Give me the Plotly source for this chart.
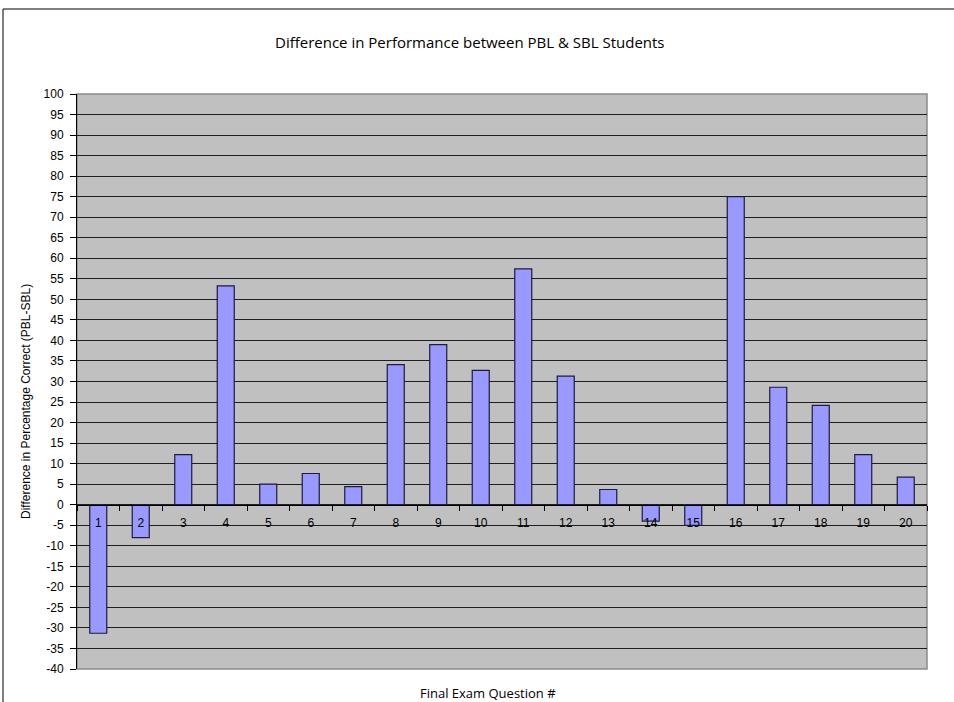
import plotly.graph_objects as go

# Final exam questions and the PBL minus SBL difference in percentage correct
questions = [str(i) for i in range(1, 21)]
difference = [-31.3, -8.0, 12.2, 53.3, 5.0, 7.6, 4.4, 34.1, 39.0, 32.7,
              57.4, 31.3, 3.7, -4.0, -5.0, 75.0, 28.6, 24.2, 12.2, 6.7]

y_min, y_max = -40, 100
y_ticks = list(range(y_min, y_max + 1, 5))

W, H = 954, 702
ML, MR, MT, MB = 77, 27, 94, 33
pw, ph = W - ML - MR, H - MT - MB


def px_x(p):
    return (p - ML) / pw


def px_y(p):
    return (H - MB - p) / ph


fig = go.Figure(
    go.Bar(
        x=questions,
        y=difference,
        marker=dict(color="#9999FF", line=dict(color="#1c1c3c", width=1.2)),
        width=0.4,
    )
)

fig.update_layout(
    width=W,
    height=H,
    margin=dict(l=ML, r=MR, t=MT, b=MB),
    paper_bgcolor="white",
    plot_bgcolor="#C0C0C0",
    showlegend=False,
    font=dict(family="Liberation Sans, Arial, sans-serif", size=12, color="black"),
    xaxis=dict(
        type="category",
        categoryorder="array",
        categoryarray=questions,
        anchor="free",
        position=(0 - y_min) / (y_max - y_min),
        showline=True,
        linecolor="black",
        linewidth=1,
        ticks="outside",
        tickson="boundaries",
        ticklen=5,
        tickcolor="black",
        ticklabelstandoff=7,
        showgrid=False,
        zeroline=False,
        tickfont=dict(size=12),
    ),
    yaxis=dict(
        range=[y_min, y_max],
        tickvals=y_ticks,
        ticktext=[str(v) for v in y_ticks],
        showline=True,
        linecolor="black",
        linewidth=1,
        ticks="outside",
        ticklen=6,
        tickcolor="black",
        ticklabelstandoff=4,
        showgrid=True,
        gridcolor="#1e1e1e",
        gridwidth=1,
        zeroline=False,
        tickfont=dict(size=12),
    ),
    shapes=[
        # plot-area frame
        dict(type="rect", xref="paper", yref="paper", x0=0, x1=1, y0=0, y1=1,
             line=dict(color="#8a8a8a", width=1.5), layer="below"),
        # chart-area border (left and top edges)
        dict(type="line", xref="paper", yref="paper",
             x0=px_x(3), x1=px_x(3), y0=px_y(720), y1=px_y(9),
             line=dict(color="black", width=1)),
        dict(type="line", xref="paper", yref="paper",
             x0=px_x(3), x1=px_x(970), y0=px_y(9), y1=px_y(9),
             line=dict(color="black", width=1)),
    ],
    annotations=[
        dict(text="Difference in Performance between PBL &amp; SBL Students",
             xref="paper", yref="paper", x=px_x(470), y=px_y(42),
             showarrow=False, xanchor="center", yanchor="middle",
             font=dict(family="Open Sans, sans-serif", size=15)),
        dict(text="Final Exam Question #",
             xref="paper", yref="paper", x=px_x(488), y=px_y(693),
             showarrow=False, xanchor="center", yanchor="middle",
             font=dict(family="Open Sans, sans-serif", size=13)),
        dict(text="Difference in Percentage Correct (PBL-SBL)",
             xref="paper", yref="paper", x=px_x(26), y=px_y(402),
             showarrow=False, xanchor="center", yanchor="middle",
             textangle=-90, font=dict(size=12)),
    ],
)

fig.write_html("out.html")
